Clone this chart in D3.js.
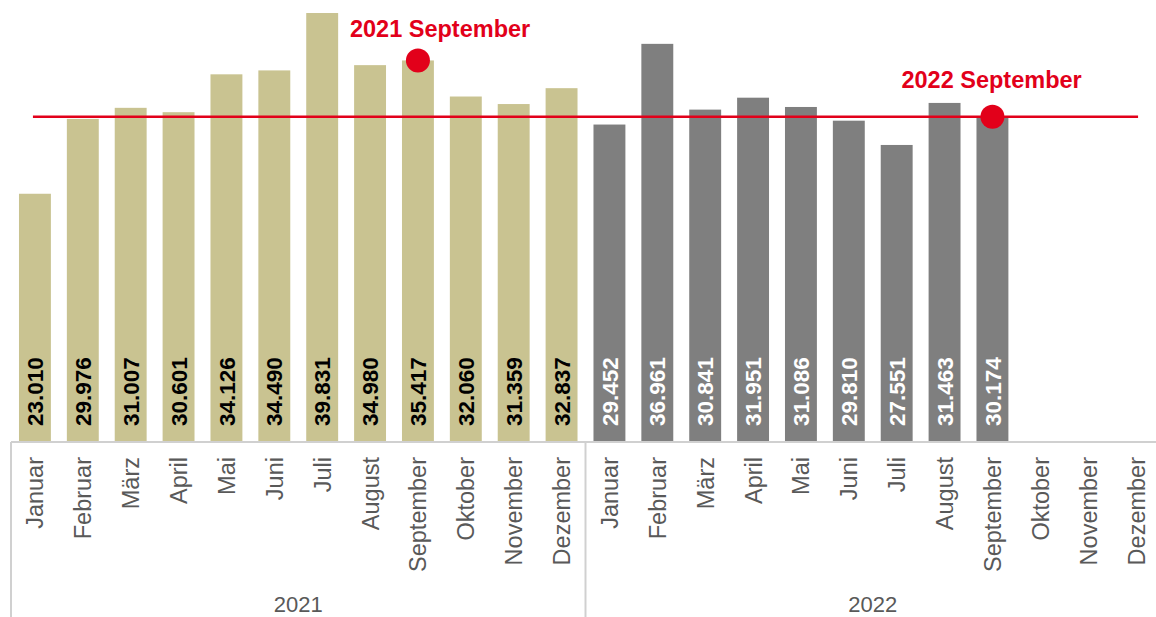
<!DOCTYPE html>
<html>
<head>
<meta charset="utf-8">
<script src="https://cdn.jsdelivr.net/npm/d3@7"></script>
<style>
  html, body { margin: 0; padding: 0; background: #fff; }
  svg { display: block; }
  text { font-family: "Liberation Sans", Arial, sans-serif; }
</style>
</head>
<body>
<svg id="chart" width="1156" height="617"></svg>
<script>
// ---- data ----
const months = ["Januar","Februar","März","April","Mai","Juni","Juli","August","September","Oktober","November","Dezember"];
const years = ["2021","2022"];
const values2021 = [23010, 29976, 31007, 30601, 34126, 34490, 39831, 34980, 35417, 32060, 31359, 32837];
const values2022 = [29452, 36961, 30841, 31951, 31086, 29810, 27551, 31463, 30174, null, null, null];
const highlights = [{year: "2021", month: "September"}, {year: "2022", month: "September"}];
const referenceLine = {year: "2022", month: "September"};

// ---- build rows ----
const seriesByYear = {"2021": values2021, "2022": values2022};
const rows = [];
years.forEach(y => months.forEach((m, i) => rows.push({key: y + "-" + m, year: y, month: m, value: seriesByYear[y][i]})));

const de = d3.formatLocale({decimal: ",", thousands: ".", grouping: [3], currency: ["", " €"]});
const fmt = de.format(",d");

const svg = d3.select("#chart");
const W = 1156, H = 617;
const baseY = 441;

const x = d3.scaleBand().domain(rows.map(d => d.key)).range([11, 1160]).paddingInner(1/3).paddingOuter(1/6);
const y = d3.scaleLinear().domain([0, 40000]).range([baseY, 11.2]);

const colors = {"2021": "#c9c391", "2022": "#7f7f7f"};
const labelColors = {"2021": "#000000", "2022": "#ffffff"};

// bars
const data = rows.filter(d => d.value != null);
svg.append("g").selectAll("rect").data(data).join("rect")
  .attr("x", d => x(d.key))
  .attr("y", d => y(d.value))
  .attr("width", x.bandwidth())
  .attr("height", d => baseY - y(d.value))
  .attr("fill", d => colors[d.year]);

// value labels
svg.append("g").selectAll("text").data(data).join("text")
  .attr("transform", d => `translate(${x(d.key) + x.bandwidth()/2},${baseY - 15}) rotate(-90)`)
  .attr("dy", "0.36em")
  .attr("text-anchor", "start")
  .style("font-size", "22.5px")
  .style("font-weight", "bold")
  .attr("fill", d => labelColors[d.year])
  .text(d => fmt(d.value));

// axis
const axis = d3.axisBottom(x).tickSize(0).tickSizeOuter(0).tickFormat(k => k.split("-")[1]);
const gAxis = svg.append("g").attr("transform", `translate(0,${baseY + 1})`).call(axis);
gAxis.select(".domain").remove();
gAxis.selectAll("text")
  .attr("transform", "rotate(-90)")
  .attr("x", -15)
  .attr("y", 0)
  .attr("dy", "0.36em")
  .style("text-anchor", "end")
  .style("font-size", "23.5px")
  .style("font-family", "'Liberation Sans', Arial, sans-serif")
  .attr("fill", "#595959");

const axisColor = "#d0d0d0";
svg.append("line").attr("x1", 11).attr("x2", 1163).attr("y1", baseY + 1).attr("y2", baseY + 1)
  .attr("stroke", axisColor).attr("stroke-width", 2);
// year separators
const yearEdges = [x.range()[0]].concat(years.slice(1).map(yr => {
  const last = x(years[years.indexOf(yr) - 1] + "-Dezember") + x.bandwidth();
  const first = x(yr + "-Januar");
  return (last + first) / 2;
}));
svg.append("g").selectAll("line").data(yearEdges).join("line")
  .attr("x1", d => d).attr("x2", d => d)
  .attr("y1", baseY + 1).attr("y2", H)
  .attr("stroke", axisColor).attr("stroke-width", 2);

// year labels
svg.append("g").selectAll("text").data(years).join("text")
  .attr("x", yr => (x(yr + "-Januar") + x(yr + "-Dezember") + x.bandwidth()) / 2)
  .attr("y", 612)
  .attr("text-anchor", "middle")
  .style("font-size", "22px")
  .attr("fill", "#595959")
  .text(yr => yr);

// reference line
const refRow = rows.find(d => d.year === referenceLine.year && d.month === referenceLine.month);
const red = "#e2001a";
svg.append("line")
  .attr("x1", x(rows[0].key) + x.bandwidth()/2 - 2)
  .attr("x2", x(rows[rows.length - 1].key) + x.bandwidth()/2 + 2)
  .attr("y1", y(refRow.value)).attr("y2", y(refRow.value))
  .attr("stroke", red).attr("stroke-width", 2.5);

// highlight dots + annotations
const hl = highlights.map(h => rows.find(d => d.year === h.year && d.month === h.month));
const annOffsets = [{dx: -68, dy: -23}, {dx: -91, dy: -29}];
svg.append("g").selectAll("circle").data(hl).join("circle")
  .attr("cx", d => x(d.key) + x.bandwidth()/2)
  .attr("cy", d => y(d.value))
  .attr("r", 12)
  .attr("fill", red);
svg.append("g").selectAll("text").data(hl).join("text")
  .attr("x", (d, i) => x(d.key) + x.bandwidth()/2 + annOffsets[i].dx)
  .attr("y", (d, i) => y(d.value) + annOffsets[i].dy)
  .style("font-size", "23.5px")
  .style("font-weight", "bold")
  .attr("fill", red)
  .text(d => d.year + " " + d.month);
</script>
</body>
</html>
